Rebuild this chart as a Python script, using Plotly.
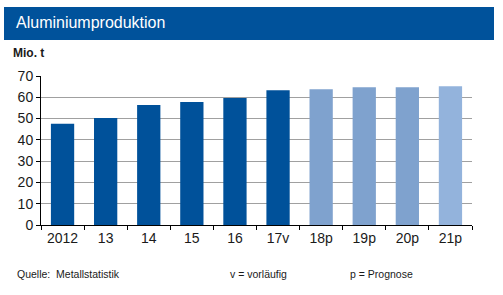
import plotly.graph_objects as go

categories = ["2012", "13", "14", "15", "16", "17v", "18p", "19p", "20p", "21p"]
values = [47.6, 50.3, 56.4, 57.8, 59.7, 63.3, 63.8, 64.7, 64.7, 65.2]
colors = ["#00519a"] * 6 + ["#7fa2ce"] * 3 + ["#93b3dc"]
y_ticks = [0, 10, 20, 30, 40, 50, 60, 70]

W, H = 503, 295
L, R, T, B = 41, 472, 76, 225

def px(x):
    return (x - L) / (R - L)

def py(y):
    return (B - y) / (B - T)

fig = go.Figure(go.Bar(x=categories, y=values, marker=dict(color=colors, line=dict(width=0)),
                       width=0.54))

fig.update_layout(
    width=W, height=H,
    margin=dict(l=L, r=W - R, t=T, b=H - B),
    paper_bgcolor="white", plot_bgcolor="white",
    font=dict(family="Liberation Sans, Arial, sans-serif", color="#1a1a1a"),
    showlegend=False,
    xaxis=dict(type="category", showgrid=False, showline=True, linecolor="black", linewidth=1,
               ticks="outside", tickson="boundaries", ticklen=4, tickcolor="black",
               tickfont=dict(size=14, color="#1a1a1a"), range=[-0.5, 9.5]),
    yaxis=dict(range=[0, 70], tickvals=y_ticks, showgrid=True, gridcolor="#a0a0a0", gridwidth=1,
               showline=True, linecolor="black", linewidth=1, ticks="outside", ticklen=4,
               tickcolor="black", tickfont=dict(size=14, color="#1a1a1a"), zeroline=False),
    shapes=[dict(type="rect", xref="paper", yref="paper", x0=px(4), x1=px(494), y0=py(40), y1=py(7),
                 fillcolor="#00529b", line=dict(width=0), layer="below")],
    annotations=[
        dict(text="Aluminiumproduktion", xref="paper", yref="paper", x=px(14), y=py(23),
             xanchor="left", yanchor="middle", showarrow=False,
             font=dict(size=16, color="white")),
        dict(text="<b>Mio. t</b>", xref="paper", yref="paper", x=px(11), y=py(53),
             xanchor="left", yanchor="middle", showarrow=False,
             font=dict(size=12, color="#1a1a1a")),
        dict(text="Quelle:  Metallstatistik", xref="paper", yref="paper", x=px(15), y=py(274),
             xanchor="left", yanchor="middle", showarrow=False, font=dict(size=10.5, color="#1a1a1a")),
        dict(text="v = vorläufig", xref="paper", yref="paper", x=px(228), y=py(274),
             xanchor="left", yanchor="middle", showarrow=False, font=dict(size=10.5, color="#1a1a1a")),
        dict(text="p = Prognose", xref="paper", yref="paper", x=px(348), y=py(274),
             xanchor="left", yanchor="middle", showarrow=False, font=dict(size=10.5, color="#1a1a1a")),
    ],
)

fig.write_html("out.html")
